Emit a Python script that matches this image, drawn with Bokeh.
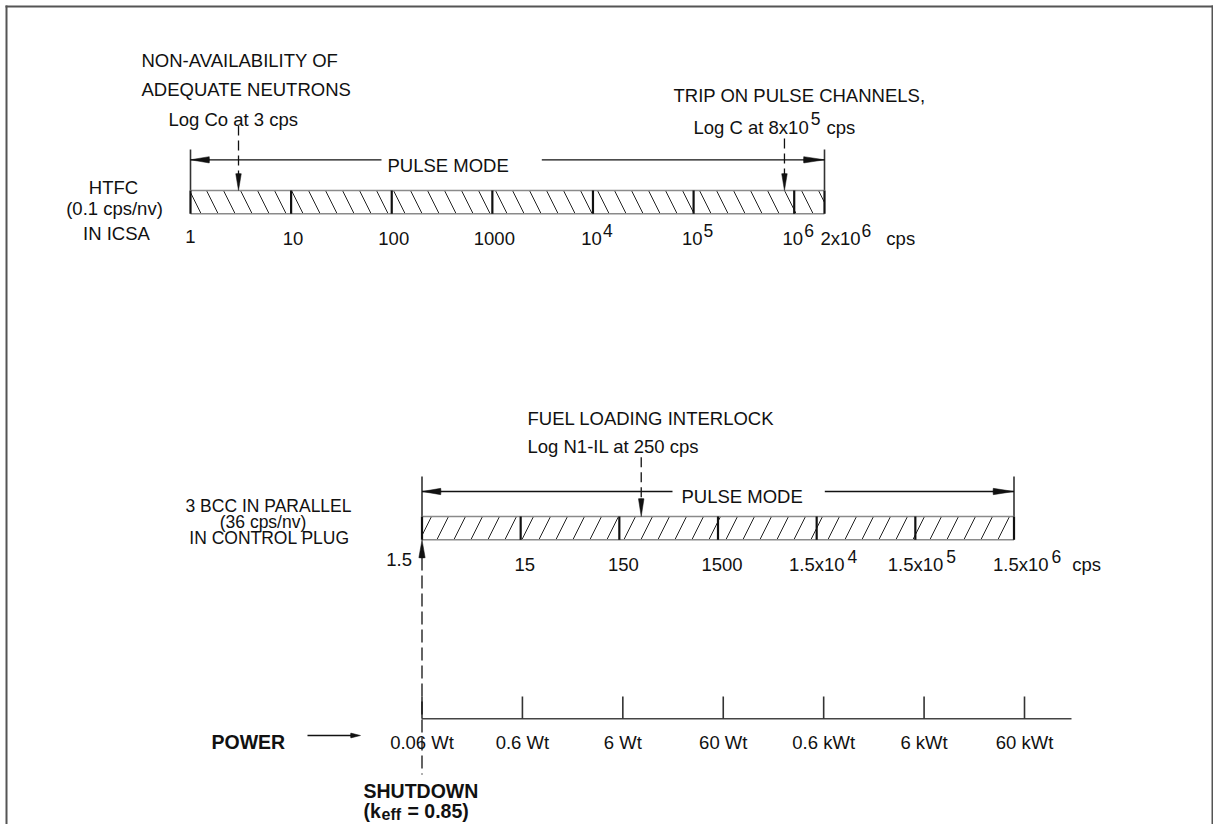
import math
from bokeh.plotting import figure
from bokeh.models import Range1d, LogScale, Label
from bokeh.core.properties import value
from bokeh.embed import file_html
from bokeh.resources import INLINE

# ---------------- data ----------------
# HTFC (0.1 cps/nv) in ICSA, pulse-mode count rate scale
htfc_ticks = [1, 10, 100, 1000, 1e4, 1e5, 1e6, 2e6]
htfc_label_base = ["1", "10", "100", "1000", "10", "10", "10", "2x10"]
htfc_label_sup = ["", "", "", "", "4", "5", "6", "6"]
htfc_label_unit = ["", "", "", "", "", "", "", "cps"]
htfc_trip_low = 3        # Log Co at 3 cps
htfc_trip_high = 8e5     # Log C at 8x10^5 cps

# 3 BCC in parallel (36 cps/nv) in control plug
bcc_ticks = [1.5, 15, 150, 1500, 1.5e4, 1.5e5, 1.5e6]
bcc_label_base = ["1.5", "15", "150", "1500", "1.5x10", "1.5x10", "1.5x10"]
bcc_label_sup = ["", "", "", "", "4", "5", "6"]
bcc_label_unit = ["", "", "", "", "", "", "cps"]
bcc_interlock = 250      # Log N1-IL at 250 cps

# Reactor power scale
power_ticks = [0.06, 0.6, 6, 60, 600, 6000, 60000]
power_labels = ["0.06 Wt", "0.6 Wt", "6 Wt", "60 Wt", "0.6 kWt", "6 kWt", "60 kWt"]
shutdown_power = 0.06

# ---------------- layout / style ----------------
W, H = 1213, 824
PX0, PX1 = 0, W
FONT = "Liberation Sans"
FS = 18.5
FSB = 19.5
INK = "#111111"


def log_range(v0, p0, v1, p1):
    b = (p1 - p0) / (math.log10(v1) - math.log10(v0))
    s = 10 ** (math.log10(v0) + (PX0 - p0) / b)
    e = 10 ** (math.log10(v0) + (PX1 - p0) / b)
    return Range1d(s, e), b


p = figure(width=W, height=H, x_range=Range1d(0, W), y_range=Range1d(H, 0),
           output_backend="svg", toolbar_location=None, min_border=0,
           x_axis_type=None, y_axis_type=None)
p.grid.visible = False
p.outline_line_color = None
p.background_fill_color = "white"
p.border_fill_color = "white"

r_htfc, b_htfc = log_range(htfc_ticks[0], 190, htfc_ticks[-1], 824)
r_bcc, b_bcc = log_range(bcc_ticks[0], 421.5, bcc_ticks[-1], 1013.5)
r_pow, b_pow = log_range(power_ticks[0], 421.5, power_ticks[-1], 1024)
p.extra_x_ranges = {"htfc": r_htfc, "bcc": r_bcc, "pow": r_pow}
p.extra_x_scales = {"htfc": LogScale(), "bcc": LogScale(), "pow": LogScale()}

CW = {str(d): 0.556 for d in range(10)}
CW.update({".": 0.278, "x": 0.5, " ": 0.278, "c": 0.5, "p": 0.556, "s": 0.5,
           "L": 0.556, "o": 0.556, "g": 0.556, "C": 0.722, "a": 0.556, "t": 0.278})


def tw(s, size):
    return sum(CW.get(c, 0.556) for c in s) * size


def txt(x, y, s, align="left", size=FS, bold=False, rn="default", dx=0, color=INK):
    p.text(x=[x], y=[y], text=[s], x_offset=dx, text_align=align,
           text_baseline="alphabetic", text_font=value(FONT),
           text_font_size=value(f"{size}px"),
           text_font_style="bold" if bold else "normal",
           text_color=color, x_range_name=rn)


def head(x, y, direction, rn="default", length=18, half=3.0):
    ang = math.atan2(half, length)
    d = math.radians(direction)
    p.wedge(x=[x], y=[y], radius=length, radius_units="screen",
            start_angle=d - ang, end_angle=d + ang,
            x_range_name=rn, fill_color=INK, line_color=INK, line_width=0.5)


def bar(rn, ticks, y_top, y_bot, hatch):
    n = len(ticks)
    p.quad(left=[ticks[0]], right=[ticks[-1]], top=[y_top], bottom=[y_bot], x_range_name=rn,
           fill_color="white", line_color=None, hatch_pattern=hatch, hatch_color="#222222",
           hatch_scale=34, hatch_weight=1)
    p.segment(x0=[ticks[0]] * 2, x1=[ticks[-1]] * 2, y0=[y_top, y_bot], y1=[y_top, y_bot],
              x_range_name=rn, line_color="#8a8a8a", line_width=1.6)
    p.segment(x0=ticks, x1=ticks, y0=[y_top] * n, y1=[y_bot] * n, x_range_name=rn,
              line_color=INK, line_width=2.2)


def pulse(rn, ticks, y_line, y_vtop, y_bar_top, lx, ly, pad):
    p.segment(x0=[ticks[0], ticks[-1]], x1=[ticks[0], ticks[-1]], y0=[y_vtop] * 2,
              y1=[y_bar_top] * 2, x_range_name=rn, line_color="#333333", line_width=1.6)
    p.segment(x0=[ticks[0]], x1=[ticks[-1]], y0=[y_line], y1=[y_line], x_range_name=rn,
              line_color=INK, line_width=1.3)
    head(ticks[0], y_line, 0, rn, 19, 3.2)
    head(ticks[-1], y_line, 180, rn, 21, 3.2)
    p.add_layout(Label(x=lx, y=ly, text="PULSE MODE", text_align="left",
                       text_baseline="alphabetic", text_font=FONT,
                       text_font_size=f"{FS}px", text_color=INK,
                       background_fill_color="white", padding=pad))


def marker(rn, v, y_top, y_tip, dash, length):
    p.segment(x0=[v], x1=[v], y0=[y_top], y1=[y_tip - length + 2], x_range_name=rn,
              line_color=INK, line_dash=dash, line_width=1.3)
    head(v, y_tip, 90, rn, length, 2.8)


def tick_label(rn, v, base, sup, unit, y, mode, dx, sup_gap, unit_gap,
               sup_size=17.5, sup_rise=8):
    wb = tw(base, FS)
    ws = (tw(sup, sup_size) + sup_gap) if sup else 0
    group = wb + ws
    if mode == "center":
        left = dx - group / 2
    elif mode == "right":
        left = dx - group
    else:
        left = dx
    txt(v, y, base, "left", rn=rn, dx=left)
    if sup:
        txt(v, y - sup_rise, sup, "left", size=sup_size, rn=rn, dx=left + wb + sup_gap)
    if unit:
        txt(v, y, unit, "left", rn=rn, dx=left + group + unit_gap)


# ---------------- frame border ----------------
p.segment(x0=[6, 5, 1212], x1=[6, 1213, 1212], y0=[5, 6, 5], y1=[824, 6, 824],
          line_color="#555555", line_width=2)

# ---------------- HTFC section ----------------
txt(141, 59.5, "NON-AVAILABILITY OF")
txt(141, 88.5, "ADEQUATE NEUTRONS")
txt(168, 118.5, "Log Co at 3 cps")
txt(673, 95, "TRIP ON PULSE CHANNELS,")
trip_base = "Log C at 8x10"
txt(693, 126.7, trip_base)
sup_x = 693 + tw(trip_base, FS) + 2
txt(sup_x, 117.5, "5", size=17.5)
txt(sup_x + tw("5", 17.5) + 6, 126.7, "cps")
txt(113, 186.5, "HTFC", "center")
txt(114, 208, "(0.1 cps/nv)", "center")
txt(116, 233, "IN ICSA", "center")

pulse("htfc", htfc_ticks, 159.3, 149, 190, 381, 165,
      dict(left=6, right=33, top=2, bottom=2))
bar("htfc", htfc_ticks, 190, 213.3, "\\")
marker("htfc", htfc_trip_low, 125, 190, "10 5", 17)
marker("htfc", htfc_trip_high, 138, 190, "10 5", 17)

for i, v in enumerate(htfc_ticks):
    if i == 0:
        mode, dx, y = "center", 0, 235.5
    elif i == len(htfc_ticks) - 1:
        mode, dx, y = "left", -4, 238
    elif htfc_label_sup[i]:
        mode, dx, y = "center", 4, 238
    else:
        mode, dx, y = "center", 2, 238
    tick_label("htfc", v, htfc_label_base[i], htfc_label_sup[i], htfc_label_unit[i],
               y, mode, dx, 1, 15)

# ---------------- BCC section ----------------
txt(527, 418, "FUEL LOADING INTERLOCK")
txt(527, 446, "Log N1-IL at 250 cps")
FSS = 17.5
txt(268, 505.5, "3 BCC IN PARALLEL", "center", size=FSS)
txt(262.5, 521.5, "(36 cps/nv)", "center", size=FSS)
txt(269, 537.5, "IN CONTROL PLUG", "center", size=FSS)

pulse("bcc", bcc_ticks, 491, 476, 516, 672, 496,
      dict(left=9, right=22, top=2, bottom=2))
bar("bcc", bcc_ticks, 516, 539.3, "/")
marker("bcc", bcc_interlock, 456.7, 516, "10 5", 18)

for i, v in enumerate(bcc_ticks):
    if i == 0:
        mode, dx, y = "right", -10, 558.5
    elif i == len(bcc_ticks) - 1:
        mode, dx, y = "left", -21, 563.5
    elif bcc_label_sup[i]:
        mode, dx, y = "center", 6.5, 563.5
    else:
        mode, dx, y = "center", 4, 563.5
    tick_label("bcc", v, bcc_label_base[i], bcc_label_sup[i], bcc_label_unit[i],
               y, mode, dx, 3, 11)

# ---------------- power axis ----------------
axis_end = power_ticks[-1] * 10 ** (47 / b_pow)
p.segment(x0=[power_ticks[0]], x1=[axis_end], y0=[718.3], y1=[718.3], x_range_name="pow",
          line_color="#444444", line_width=1.5)
n = len(power_ticks)
p.segment(x0=power_ticks, x1=power_ticks, y0=[696] * n, y1=[718.3] * n, x_range_name="pow",
          line_color="#333333", line_width=1.6)
for v, lab in zip(power_ticks, power_labels):
    txt(v, 741.7, lab, "center", rn="pow")

# shutdown line
p.segment(x0=[shutdown_power], x1=[shutdown_power], y0=[557], y1=[774], x_range_name="pow",
          line_color=INK, line_dash="13 5", line_width=1.3)
head(shutdown_power, 539.5, 270, "pow", 18, 3.2)

txt(211, 741.7, "POWER", bold=True, size=FSB)
p.segment(x0=[307], x1=[352], y0=[735], y1=[735], line_color=INK, line_width=1.3)
head(360, 735, 180, "default", 10, 2.5)

txt(363, 790, "SHUTDOWN", bold=True, size=FSB)
txt(363, 810, "(k", bold=True, size=FSB)
txt(381, 814, "eff", bold=True, size=16)
txt(407, 810, "= 0.85)", bold=True, size=FSB)

open("out.html", "w").write(file_html(p, INLINE, title="Neutron flux monitoring ranges"))
